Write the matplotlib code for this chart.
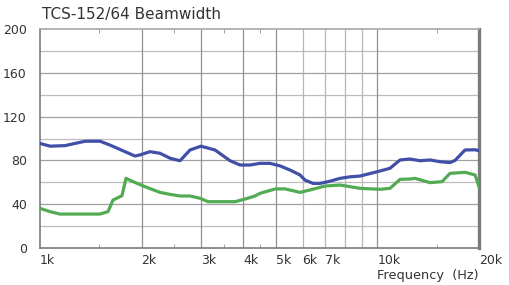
import matplotlib
matplotlib.use("Agg")
import matplotlib.pyplot as plt
from matplotlib.ticker import FixedLocator, NullFormatter

# beamwidth curves
blue_freq = [1000, 1071, 1186, 1360, 1506, 1612, 1786, 1912, 1979, 2118, 2268,
             2428, 2600, 2784, 3000, 3302, 3657, 3915, 4193, 4487, 4805, 5144,
             5508, 5897, 6101, 6443, 6761, 7238, 7748, 8295, 8880, 9506, 10000,
             10897, 11668, 12491, 13373, 14319, 15330, 16414, 16982, 18184,
             19470, 20000]
blue_deg = [95.5, 93, 93.5, 97.5, 97.5, 94, 88, 84, 85, 88, 86.5,
            82, 79.7, 89.5, 93, 89.5, 79.7, 75.8, 75.8, 77.3, 77.3, 75,
            71.2, 66.7, 62, 59, 59, 61, 63.6, 65, 65.7, 68, 69.7,
            72.8, 80.4, 81.3, 79.7, 80.4, 78.8, 78, 80, 89.5,
            89.7, 88.9]

green_freq = [1000, 1071, 1146, 1270, 1506, 1590, 1646, 1750, 1798, 1887, 2048,
              2268, 2428, 2600, 2784, 2981, 3147, 3784, 4053, 4338, 4487, 4972,
              5323, 5897, 6313, 6995, 7748, 8295, 8880, 10178, 10897, 11668,
              12491, 12925, 14319, 15540, 16414, 18184, 19470, 20000]
green_deg = [36.2, 33.2, 31, 31, 31, 33.2, 43.8, 47.8, 63.6, 60.6, 56,
             50.8, 49, 47.5, 47.5, 45.4, 42.3, 42.3, 44.7, 47.5, 49.9, 53.9,
             54, 50.8, 53, 56.6, 57.5, 56, 54.5, 53.6, 54.5, 62.7,
             63, 63.6, 59.7, 60.6, 68.2, 69.1, 66.7, 56]

x_ticks = [1000, 2000, 3000, 4000, 5000, 6000, 7000, 10000, 20000]
x_labels = ["1k", "2k", "3k", "4k", "5k", "6k", "7k", "10k", "20k"]
x_grid = [2000, 3000, 4000, 5000, 6000, 7000, 8000, 9000, 10000]
x_minor = [1500, 2500, 3500, 4500, 15000]
y_ticks = [0, 40, 80, 120, 160, 200]

text_col = "#333333"

fig = plt.figure(figsize=(5.09, 2.85), dpi=100)
ax = fig.add_axes([40 / 509, 37 / 285, 439 / 509, 219 / 285])

# grid
for y in range(20, 200, 20):
    col = "#a0a0a0" if y % 40 == 0 else "#bdbdbd"
    ax.axhline(y, color=col, linewidth=0.9, zorder=1)
for f in x_grid:
    col = "#909090" if f in (2000, 3000, 4000, 5000, 10000) else "#b6b6b6"
    ax.axvline(f, color=col, linewidth=0.9, zorder=1)

ax.plot(blue_freq, blue_deg, color="#4050a8", linewidth=2.3, zorder=3)
ax.plot(green_freq, green_deg, color="#52ab52", linewidth=2.3, zorder=3)

ax.set_xscale("log")
ax.set_xlim(1000, 20000)
ax.set_ylim(0, 200)

ax.xaxis.set_major_locator(FixedLocator(x_ticks))
ax.set_xticklabels(x_labels, ha="left")
ax.xaxis.set_minor_locator(FixedLocator(x_minor))
ax.xaxis.set_minor_formatter(NullFormatter())
ax.tick_params(axis="x", which="major", length=0, pad=4, labelsize=9,
               labelcolor=text_col)
ax.tick_params(axis="x", which="minor", direction="in", length=3,
               color="#909090", top=True, bottom=True)
ax.set_yticks(y_ticks)
ax.tick_params(axis="y", length=0, pad=9.5, labelsize=9, labelcolor=text_col)

for side in ("left", "bottom"):
    ax.spines[side].set_color("#7a7a7a")
    ax.spines[side].set_linewidth(1.2)
ax.spines["right"].set_color("#7a7a7a")
ax.spines["right"].set_linewidth(2.4)
ax.spines["top"].set_color("#a8a8a8")
ax.spines["top"].set_linewidth(1.2)

fig.text(42 / 509, 1 - 15 / 285, "TCS-152/64 Beamwidth", fontsize=11,
         color=text_col, va="center", ha="left")
fig.text(377 / 509, 1 - 275 / 285, "Frequency  (Hz)", fontsize=9.3,
         color=text_col, va="center", ha="left")

fig.savefig("out.png", dpi=100)
